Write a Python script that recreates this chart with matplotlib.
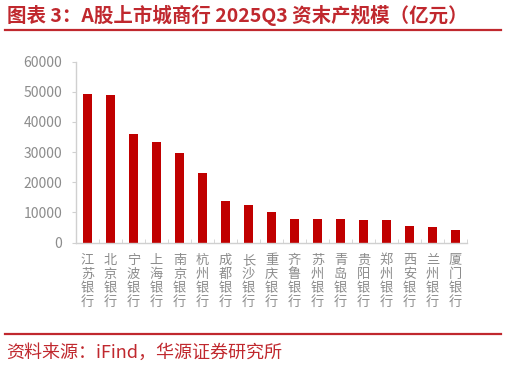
import numpy as np
import matplotlib
matplotlib.use("Agg")
import matplotlib.pyplot as plt
from matplotlib.lines import Line2D

plt.rcParams['font.family'] = ['Noto Sans CJK SC', 'DejaVu Sans']

# data
banks = ["江苏银行", "北京银行", "宁波银行", "上海银行", "南京银行", "杭州银行",
         "成都银行", "长沙银行", "重庆银行", "齐鲁银行", "苏州银行", "青岛银行",
         "贵阳银行", "郑州银行", "西安银行", "兰州银行", "厦门银行"]
assets = [49400, 49050, 36000, 33300, 29750, 23050, 13800, 12350, 10150, 7750,
          7800, 7750, 7600, 7400, 5400, 5100, 4300]
yticks = [0, 10000, 20000, 30000, 40000, 50000, 60000]

title = "图表 3：A股上市城商行 2025Q3 资末产规模（亿元）"
source = "资料来源：iFind，华源证券研究所"

RED = "#C00000"
TXT_RED = "#C0282E"
GREY = "#8C8C8C"
AXIS = "#D0D0D0"

fig = plt.figure(figsize=(5.06, 3.67), dpi=100)
ax = fig.add_axes([0.150, 0.339, 0.773, 0.493])

x = np.arange(len(banks))
ax.bar(x, assets, width=0.36, color=RED, zorder=2)

ax.set_xlim(-0.5, len(banks) - 0.5)
ax.set_ylim(0, 60000)
ax.set_yticks(yticks)
ax.set_yticklabels([str(v) for v in yticks])

# category labels stacked vertically
ax.set_xticks(x)
ax.set_xticklabels(["\n".join(b) for b in banks], linespacing=1.12,
                   va="top")
ax.tick_params(axis="x", length=0, pad=8, labelsize=9.5, labelcolor=GREY)
ax.set_xticks(np.arange(-0.5, len(banks)), minor=True)
ax.tick_params(axis="x", which="minor", direction="in", length=3, color=AXIS)
ax.tick_params(axis="y", length=3, color=AXIS, pad=7, labelsize=10,
               labelcolor=GREY)

for s in ["top", "right"]:
    ax.spines[s].set_visible(False)
for s in ["left", "bottom"]:
    ax.spines[s].set_color(AXIS)
    ax.spines[s].set_linewidth(1.0)

# title, rules and source
fig.text(0.014, 0.958, title, fontsize=14, fontweight="bold",
         color=TXT_RED, va="center", ha="left")
fig.add_artist(Line2D([0.010, 0.990], [0.918, 0.918], color=TXT_RED, lw=1.6))
fig.add_artist(Line2D([0.010, 0.990], [0.091, 0.091], color=TXT_RED, lw=1.6))
fig.text(0.012, 0.038, source, fontsize=13, color=TXT_RED, va="center",
         ha="left")

fig.savefig("out.png", dpi=100)
